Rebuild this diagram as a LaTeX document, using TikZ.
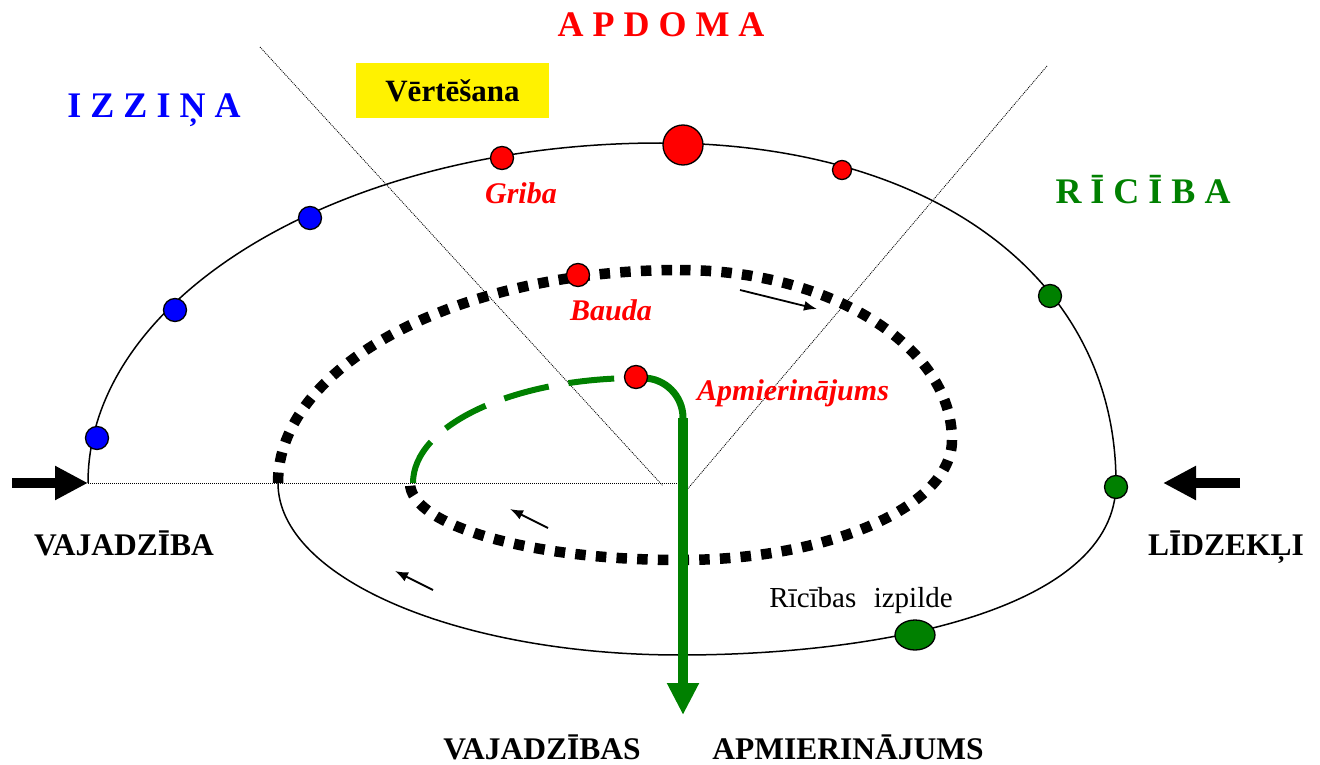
\documentclass[tikz,border=0pt]{standalone}
\usepackage{fontspec}
\setmainfont{Liberation Serif}
\usetikzlibrary{arrows.meta,shapes.geometric}
\definecolor{dgreen}{RGB}{0,128,0}
\begin{document}
\begin{tikzpicture}[x=1pt,y=-1pt,
  dot/.style={circle,draw=black,line width=1.3pt,inner sep=0pt,minimum size=23pt},
  bdot/.style={dot,fill=blue},
  rdot/.style={dot,fill=red},
  gdot/.style={dot,fill=dgreen},
  guide/.style={line width=0.8pt,dash pattern=on 1pt off 1pt},
  orbit/.style={line width=1.5pt},
  squares/.style={line width=10.5pt,dash pattern=on 10.5pt off 10.2pt},
  flow/.style={line width=1.8pt,-{Latex[length=13pt 0 0,width=10pt 0 0]}},
  bigarrow/.style={line width=10pt,-{Triangle[length=33pt 0 0,width=32pt 0 0]}},
  phase/.style={font=\bfseries\fontsize{36}{40}\selectfont,anchor=base,inner sep=0pt},
  lbl/.style={font=\bfseries\fontsize{31.5}{36}\selectfont,anchor=base,inner sep=0pt},
  itl/.style={font=\bfseries\itshape\fontsize{30}{34}\selectfont,text=red,anchor=base,inner sep=0pt}
]
\useasboundingbox (0,0) rectangle (1320,765);

% guide lines
\coordinate (lend) at (88,483);
\coordinate (hc) at (683,483);
\coordinate (d1a) at (260,47);
\coordinate (d1b) at (663,486);
\coordinate (d2a) at (1047,66);
\coordinate (d2b) at (685,492);
\draw[guide] (lend) -- (hc);
\draw[guide] (d1a) -- (d1b);
\draw[guide] (d2a) -- (d2b);

% outer orbit
\draw[orbit] (88,483) arc[start angle=180,end angle=270,x radius=572,y radius=340]
  .. controls (934,143) and (1116,279) .. (1116,483)
  .. controls (1116,610) and (880,655) .. (680,655)
  arc[start angle=90,end angle=180,x radius=402,y radius=172];

% dotted inner orbit
\draw[squares] (278,483) arc[start angle=180,end angle=270,x radius=402,y radius=213];
\draw[squares] (680,270) arc[start angle=270,end angle=360,x radius=272,y radius=170]
  arc[start angle=0,end angle=90,x radius=272,y radius=120]
  arc[start angle=90,end angle=180,x radius=270,y radius=77];

% green dashed and solid path
\draw[dgreen,line width=6pt,dash pattern=on 46pt off 20pt] (413,483) arc[start angle=180,end angle=270,x radius=225,y radius=105];
\draw[dgreen,line width=7pt,rounded corners=40pt] (636,378) -| (683,432);
\coordinate (gtop) at (683,418);
\coordinate (gend) at (683,715);
\draw[dgreen,line width=10pt,-{Triangle[length=32pt 0 0,width=30pt 0 0]}] (gtop) -- (gend);

% small direction arrows
\coordinate (f1a) at (740,290); \coordinate (f1b) at (817,309);
\coordinate (f2a) at (548,528); \coordinate (f2b) at (510,509);
\coordinate (f3a) at (433,590); \coordinate (f3b) at (395,571);
\draw[flow] (f1a) -- (f1b);
\draw[flow] (f2a) -- (f2b);
\draw[flow] (f3a) -- (f3b);

% big arrows
\coordinate (la) at (12,483);
\coordinate (ra) at (1240,483);
\coordinate (rend) at (1163,483);
\draw[bigarrow] (la) -- (lend);
\draw[bigarrow] (ra) -- (rend);

% dots
\node[bdot] (b1) at (97,438) {};
\node[bdot] (b2) at (175,310) {};
\node[bdot] (b3) at (310,218) {};
\node[rdot] (r1) at (502,158) {};
\node[rdot,minimum size=40pt] (r2) at (683,145) {};
\node[rdot,minimum size=19pt] (r3) at (842,170) {};
\node[rdot] (bauda) at (578,275) {};
\node[rdot] (apm) at (636,377) {};
\node[gdot] (g1) at (1050,296) {};
\node[gdot] (g2) at (1116,487) {};
\node[ellipse,draw=black,line width=1.3pt,fill=dgreen,inner sep=0pt,minimum width=40pt,minimum height=30pt] (g3) at (915,635) {};

% texts
\node[phase,text=red] (apdoma) at (661,37) {A P D O M A};
\node[phase,text=blue] (izz) at (154,118) {I Z Z I Ņ A};
\node[phase,text=dgreen] (ric) at (1143,203) {R Ī C Ī B A};
\node[fill=yellow,minimum width=193pt,minimum height=55pt,inner sep=0pt,font=\bfseries\fontsize{31}{35}\selectfont] (vert) at (452.5,90.5) {Vērtēšana};
\node[lbl] (vaj) at (124,555) {VAJADZĪBA};
\node[lbl] (lid) at (1226,555) {LĪDZEKĻI};
\node[lbl] (vajs) at (542,759) {VAJADZĪBAS};
\node[lbl] (apmj) at (848,759) {APMIERINĀJUMS};
\node[itl] (griba) at (521,203) {Griba};
\node[itl] (baudat) at (611,320) {Bauda};
\node[itl,anchor=base west] (apmt) at (697,400) {Apmierinājums};
\node[font=\fontsize{29}{34}\selectfont,anchor=base,inner sep=0pt] (izp) at (861,607) {Rīcības\hspace{0.6em}izpilde};
\end{tikzpicture}
\end{document}
